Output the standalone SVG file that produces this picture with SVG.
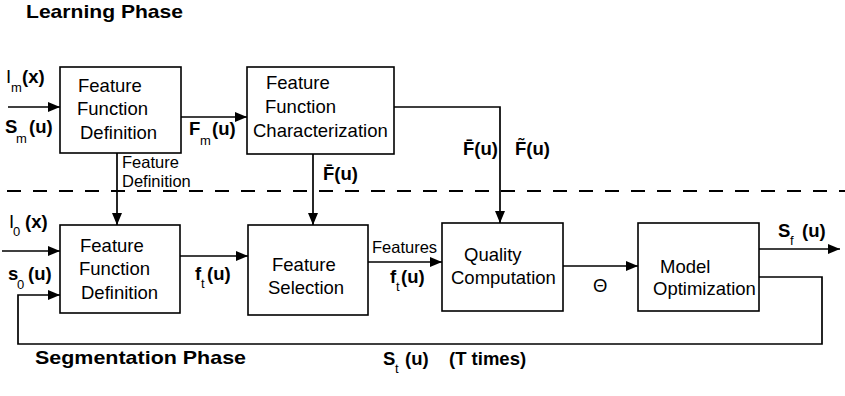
<svg xmlns="http://www.w3.org/2000/svg" width="845" height="396" viewBox="0 0 845 396">
  <style>
    .box { fill: #fff; stroke: #000; stroke-width: 1.6; }
    .wire { fill: none; stroke: #000; stroke-width: 1.7; }
    .arrow { marker-end: url(#head); }
    .dash { fill: none; stroke: #000; stroke-width: 1.8; stroke-dasharray: 14 12; }
    text { font-family: "Liberation Sans", Arial, sans-serif; fill: #000; }
    .t { font-size: 18.5px; }
    .b { font-size: 18.5px; font-weight: bold; }
    .s { font-size: 13px; }
    .sm { font-size: 16.5px; }
    .h { font-size: 18.5px; font-weight: bold; }
  </style>
  <defs>
    <marker id="head" viewBox="0 0 12 10" refX="12" refY="5" markerWidth="12" markerHeight="10" markerUnits="userSpaceOnUse" orient="auto">
      <path d="M0,0 L12,5 L0,10 Z" fill="#000"/>
    </marker>
  </defs>

  <!-- phase headings and the divider between them -->
  <text class="h" x="26" y="18" textLength="157" lengthAdjust="spacingAndGlyphs">Learning Phase</text>
  <text class="h" x="35" y="364" textLength="211" lengthAdjust="spacingAndGlyphs">Segmentation Phase</text>
  <line class="dash" x1="7" y1="191" x2="845" y2="191"/>

  <!-- connectors -->
  <g id="connectors">
    <line class="wire arrow" x1="8" y1="107" x2="60" y2="107"/>
    <line class="wire arrow" x1="181" y1="117" x2="247" y2="117"/>
    <polyline class="wire arrow" points="394,107 500,107 500,223"/>
    <line class="wire arrow" x1="117" y1="153" x2="117" y2="225"/>
    <line class="wire arrow" x1="313" y1="154" x2="313" y2="225"/>
    <line class="wire arrow" x1="2" y1="251" x2="60" y2="251"/>
    <line class="wire arrow" x1="180" y1="256" x2="248" y2="256"/>
    <line class="wire arrow" x1="368" y1="262" x2="442" y2="262"/>
    <line class="wire arrow" x1="563" y1="266" x2="638" y2="266"/>
    <line class="wire arrow" x1="759" y1="249" x2="840" y2="249"/>
    <polyline class="wire arrow" points="759,277 822,277 822,344 18,344 18,295 60,295"/>
  </g>

  <!-- learning phase blocks -->
  <g id="ffd-learn">
    <rect class="box" x="60" y="67" width="121" height="86"/>
    <text class="t" x="78" y="92">Feature</text>
    <text class="t" x="77" y="115">Function</text>
    <text class="t" x="80" y="139">Definition</text>
  </g>
  <g id="ffc">
    <rect class="box" x="247" y="67" width="147" height="87"/>
    <text class="t" x="266" y="89">Feature</text>
    <text class="t" x="265" y="113">Function</text>
    <text class="t" x="253" y="137">Characterization</text>
  </g>

  <!-- segmentation phase blocks -->
  <g id="ffd-seg">
    <rect class="box" x="60" y="225" width="120" height="88"/>
    <text class="t" x="80" y="252">Feature</text>
    <text class="t" x="79" y="275">Function</text>
    <text class="t" x="81" y="299">Definition</text>
  </g>
  <g id="feature-selection">
    <rect class="box" x="248" y="225" width="120" height="90"/>
    <text class="t" x="272" y="271">Feature</text>
    <text class="t" x="268" y="294">Selection</text>
  </g>
  <g id="quality">
    <rect class="box" x="442" y="223" width="121" height="88"/>
    <text class="t" x="464" y="261">Quality</text>
    <text class="t" x="451" y="284">Computation</text>
  </g>
  <g id="model">
    <rect class="box" x="638" y="223" width="121" height="88"/>
    <text class="t" x="660" y="273">Model</text>
    <text class="t" x="653" y="295">Optimization</text>
  </g>

  <!-- signal labels -->
  <g id="labels">
    <text class="t" x="6" y="83">I</text><text class="s" x="11" y="92">m</text><text class="b" x="22" y="83">(x)</text>
    <text class="b" x="5" y="133">S</text><text class="s" x="16" y="143">m</text><text class="b" x="29" y="133">(u)</text>
    <text class="b" x="189" y="135">F</text><text class="s" x="200" y="145">m</text><text class="b" x="212" y="135">(u)</text>
    <text class="sm" x="122" y="168">Feature</text>
    <text class="sm" x="122" y="187">Definition</text>
    <text class="b" x="323" y="180">F&#x0304;(u)</text>
    <text class="b" x="463" y="155">F&#x0304;(u)</text>
    <text class="b" x="515" y="155">F&#x0303;(u)</text>
    <text class="t" x="9" y="228">I</text><text class="s" x="13" y="236">0</text><text class="b" x="25" y="228">(x)</text>
    <text class="b" x="8" y="280">s</text><text class="s" x="17" y="289">0</text><text class="b" x="28" y="280">(u)</text>
    <text class="b" x="195" y="280">f</text><text class="s" x="201" y="288">t</text><text class="b" x="207" y="280">(u)</text>
    <text class="sm" x="372" y="253">Features</text>
    <text class="b" x="390" y="283">f</text><text class="s" x="396" y="291">t</text><text class="b" x="401" y="283">(u)</text>
    <text class="t" x="593" y="292">Θ</text>
    <text class="b" x="778" y="237">S</text><text class="s" x="790" y="245">f</text><text class="b" x="802" y="237">(u)</text>
    <text class="b" x="383" y="365">S</text><text class="s" x="395" y="373">t</text><text class="b" x="405" y="365">(u)</text>
    <text class="b" x="449" y="365">(T times)</text>
  </g>
</svg>
